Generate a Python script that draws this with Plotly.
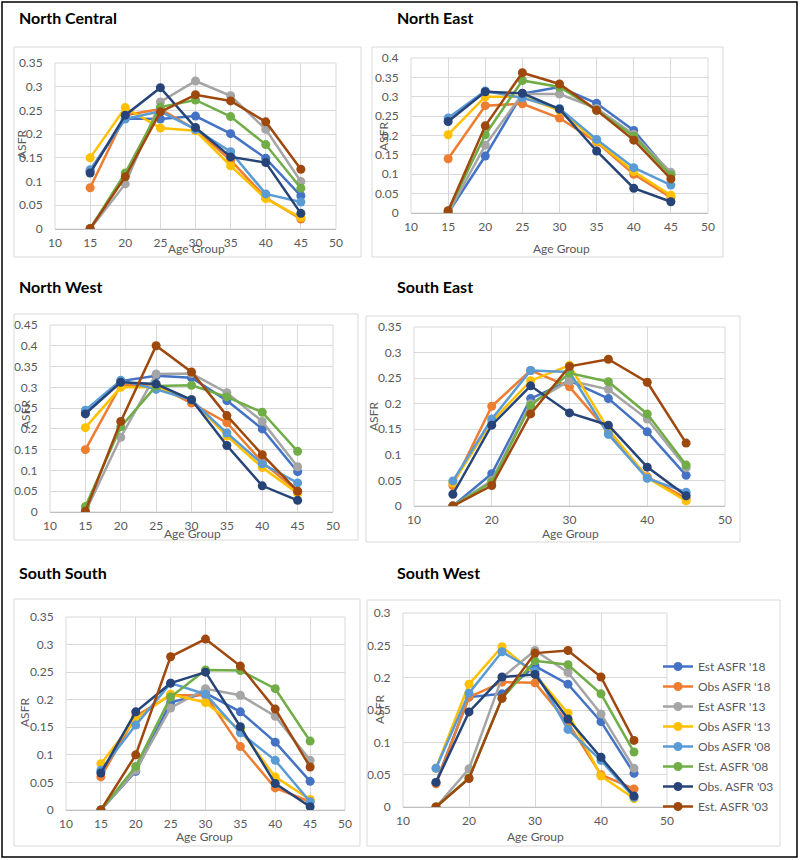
import plotly.graph_objects as go

W, H = 800, 860

ages = [15, 20, 25, 30, 35, 40, 45]

series_names = ["Est ASFR '18", "Obs ASFR '18", "Est ASFR '13", "Obs ASFR '13",
                "Obs ASFR '08", "Est. ASFR '08", "Obs. ASFR '03", "Est. ASFR '03"]
series_colors = ["#4472C4", "#ED7D31", "#A5A5A5", "#FFC000",
                 "#5B9BD5", "#70AD47", "#264478", "#9E480E"]

# one row per series, same order as series_names
north_central = [
    [0.122, 0.233, 0.232, 0.238, 0.201, 0.149, 0.070],
    [0.087, 0.240, 0.253, 0.210, 0.145, 0.066, 0.021],
    [0.000, 0.095, 0.268, 0.312, 0.281, 0.210, 0.100],
    [0.150, 0.256, 0.213, 0.207, 0.133, 0.064, 0.024],
    [0.125, 0.232, 0.248, 0.210, 0.163, 0.074, 0.057],
    [0.000, 0.118, 0.257, 0.272, 0.237, 0.178, 0.086],
    [0.118, 0.240, 0.298, 0.214, 0.152, 0.140, 0.033],
    [0.001, 0.110, 0.247, 0.283, 0.270, 0.226, 0.126],
]
north_east = [
    [0.000, 0.147, 0.308, 0.325, 0.283, 0.213, 0.100],
    [0.140, 0.277, 0.282, 0.245, 0.183, 0.100, 0.040],
    [0.000, 0.175, 0.307, 0.307, 0.270, 0.203, 0.105],
    [0.202, 0.300, 0.300, 0.265, 0.185, 0.107, 0.046],
    [0.245, 0.315, 0.297, 0.270, 0.190, 0.117, 0.072],
    [0.005, 0.202, 0.342, 0.325, 0.265, 0.198, 0.098],
    [0.236, 0.313, 0.309, 0.268, 0.160, 0.064, 0.029],
    [0.006, 0.225, 0.362, 0.333, 0.265, 0.188, 0.088],
]
north_west = [
    [0.240, 0.315, 0.328, 0.323, 0.268, 0.200, 0.097],
    [0.150, 0.305, 0.305, 0.262, 0.215, 0.120, 0.050],
    [0.000, 0.180, 0.332, 0.333, 0.287, 0.218, 0.109],
    [0.203, 0.300, 0.300, 0.270, 0.183, 0.107, 0.045],
    [0.245, 0.317, 0.295, 0.270, 0.190, 0.116, 0.070],
    [0.013, 0.205, 0.303, 0.305, 0.277, 0.240, 0.146],
    [0.236, 0.312, 0.308, 0.270, 0.160, 0.063, 0.028],
    [0.002, 0.218, 0.400, 0.337, 0.232, 0.138, 0.050],
]
south_east = [
    [0.000, 0.063, 0.210, 0.245, 0.210, 0.145, 0.060],
    [0.040, 0.195, 0.265, 0.233, 0.145, 0.057, 0.015],
    [0.000, 0.050, 0.200, 0.245, 0.228, 0.170, 0.075],
    [0.045, 0.165, 0.245, 0.275, 0.150, 0.055, 0.010],
    [0.049, 0.170, 0.265, 0.262, 0.140, 0.054, 0.027],
    [0.000, 0.047, 0.196, 0.260, 0.243, 0.180, 0.080],
    [0.023, 0.158, 0.235, 0.182, 0.158, 0.076, 0.020],
    [0.000, 0.040, 0.180, 0.273, 0.287, 0.242, 0.123],
]
south_south = [
    [0.000, 0.070, 0.195, 0.212, 0.178, 0.123, 0.052],
    [0.060, 0.170, 0.208, 0.208, 0.115, 0.040, 0.015],
    [0.000, 0.072, 0.185, 0.220, 0.208, 0.170, 0.090],
    [0.084, 0.165, 0.210, 0.195, 0.145, 0.060, 0.019],
    [0.072, 0.154, 0.230, 0.210, 0.140, 0.090, 0.015],
    [0.000, 0.079, 0.205, 0.254, 0.253, 0.220, 0.125],
    [0.067, 0.178, 0.230, 0.250, 0.151, 0.048, 0.006],
    [0.000, 0.100, 0.278, 0.310, 0.261, 0.183, 0.078],
]
south_west = [
    [0.038, 0.170, 0.175, 0.218, 0.190, 0.132, 0.052],
    [0.036, 0.170, 0.193, 0.192, 0.130, 0.050, 0.028],
    [0.000, 0.059, 0.200, 0.242, 0.208, 0.144, 0.060],
    [0.060, 0.190, 0.248, 0.205, 0.145, 0.048, 0.013],
    [0.060, 0.176, 0.240, 0.210, 0.120, 0.072, 0.015],
    [0.000, 0.045, 0.168, 0.226, 0.220, 0.175, 0.085],
    [0.038, 0.147, 0.201, 0.205, 0.136, 0.077, 0.017],
    [0.000, 0.044, 0.168, 0.238, 0.242, 0.201, 0.103],
]

# title, data, y max, x dtick, plot box (px), chart box (px), "Age Group" pos, "ASFR" pos, title pos
panels = [
    ("North Central", north_central, 0.35, 5, (55, 63, 336, 229), (14, 47, 361, 257), (196, 248), (22, 145), (17, 18)),
    ("North East", north_east, 0.4, 5, (411, 58, 708, 213), (372, 47, 723, 257), (561, 248), (383, 137), (395, 18)),
    ("North West", north_west, 0.45, 5, (50, 325, 333, 512), (14, 314, 358, 540), (192, 533), (25, 415), (17, 286)),
    ("South East", south_east, 0.35, 10, (414, 327, 725, 506), (366, 316, 740, 542), (570, 533), (373, 417), (395, 286)),
    ("South South", south_south, 0.35, 5, (66, 617, 345, 810), (14, 599, 360, 846), (205, 836), (24, 713), (17, 572)),
    ("South West", south_west, 0.3, 10, (403, 613, 667, 807), (367, 600, 780, 846), (535, 836), (379, 710), (395, 572)),
]


def px(x):
    return x / W


def py(y):
    return 1 - y / H


fig = go.Figure()
shapes = []
annotations = []
grey_txt = "#595959"

for i, (title, data, ymax, xdt, pbox, cbox, xt, yt, tpos) in enumerate(panels):
    n = "" if i == 0 else str(i + 1)
    for k, vals in enumerate(data):
        fig.add_trace(go.Scatter(
            x=ages, y=vals, name=series_names[k], mode="lines+markers",
            line=dict(color=series_colors[k], width=2.5),
            marker=dict(color=series_colors[k], size=9),
            xaxis="x" + n, yaxis="y" + n,
            legendgroup=series_names[k],
            showlegend=(i == 5)))

    x0, y0, x1, y1 = pbox
    fig.layout["xaxis" + n] = dict(
        domain=[px(x0), px(x1)], anchor="y" + n, range=[10, 50], dtick=xdt, tick0=10,
        showgrid=True, gridcolor="#D9D9D9", gridwidth=1, zeroline=False,
        showline=True, linecolor="#BFBFBF", linewidth=1,
        ticks="outside", ticklen=3, tickcolor="rgba(0,0,0,0)",
        tickfont=dict(size=12, color=grey_txt), fixedrange=True)
    fig.layout["yaxis" + n] = dict(
        domain=[py(y1), py(y0)], anchor="x" + n, range=[0, ymax], dtick=0.05,
        showgrid=True, gridcolor="#D9D9D9", gridwidth=1, zeroline=False,
        ticks="outside", ticklen=9, tickcolor="rgba(0,0,0,0)",
        tickfont=dict(size=12, color=grey_txt), fixedrange=True)
    # gridlines at the edges of the plot area
    shapes.append(dict(type="rect", xref="paper", yref="paper",
                       x0=px(x0), x1=px(x1), y0=py(y1), y1=py(y0),
                       line=dict(color="#D9D9D9", width=1), layer="below"))

    cx0, cy0, cx1, cy1 = cbox
    shapes.append(dict(type="rect", xref="paper", yref="paper",
                       x0=px(cx0), x1=px(cx1), y0=py(cy1), y1=py(cy0),
                       line=dict(color="#D9D9D9", width=1)))

    annotations.append(dict(text="<b>" + title + "</b>", x=px(tpos[0]), y=py(tpos[1]),
                            xref="paper", yref="paper", xanchor="left", yanchor="middle",
                            showarrow=False, font=dict(family="Lato", size=16, color="black")))
    annotations.append(dict(text="Age Group", x=px(xt[0]), y=py(xt[1]),
                            xref="paper", yref="paper", xanchor="center", yanchor="middle",
                            showarrow=False, font=dict(size=12, color=grey_txt)))
    annotations.append(dict(text="ASFR", x=px(yt[0]), y=py(yt[1]), textangle=-90,
                            xref="paper", yref="paper", xanchor="center", yanchor="middle",
                            showarrow=False, font=dict(size=12, color=grey_txt)))

# outer frame
shapes.append(dict(type="rect", xref="paper", yref="paper",
                   x0=px(2), x1=px(797), y0=py(857), y1=py(2),
                   line=dict(color="black", width=1.5)))

fig.update_layout(
    width=W, height=H,
    margin=dict(l=0, r=0, t=0, b=0, autoexpand=False),
    paper_bgcolor="white", plot_bgcolor="white",
    font=dict(family="Lato", color=grey_txt),
    shapes=shapes, annotations=annotations,
    legend=dict(x=px(658), y=py(652), xanchor="left", yanchor="top",
                font=dict(size=12, color=grey_txt), bgcolor="rgba(0,0,0,0)",
                itemwidth=30, tracegroupgap=1),
)

# drop the browser's default page margin so the figure sits at the top-left corner
fig.write_html("out.html", config={"displayModeBar": False},
               post_script="document.body.style.margin = '0';")
